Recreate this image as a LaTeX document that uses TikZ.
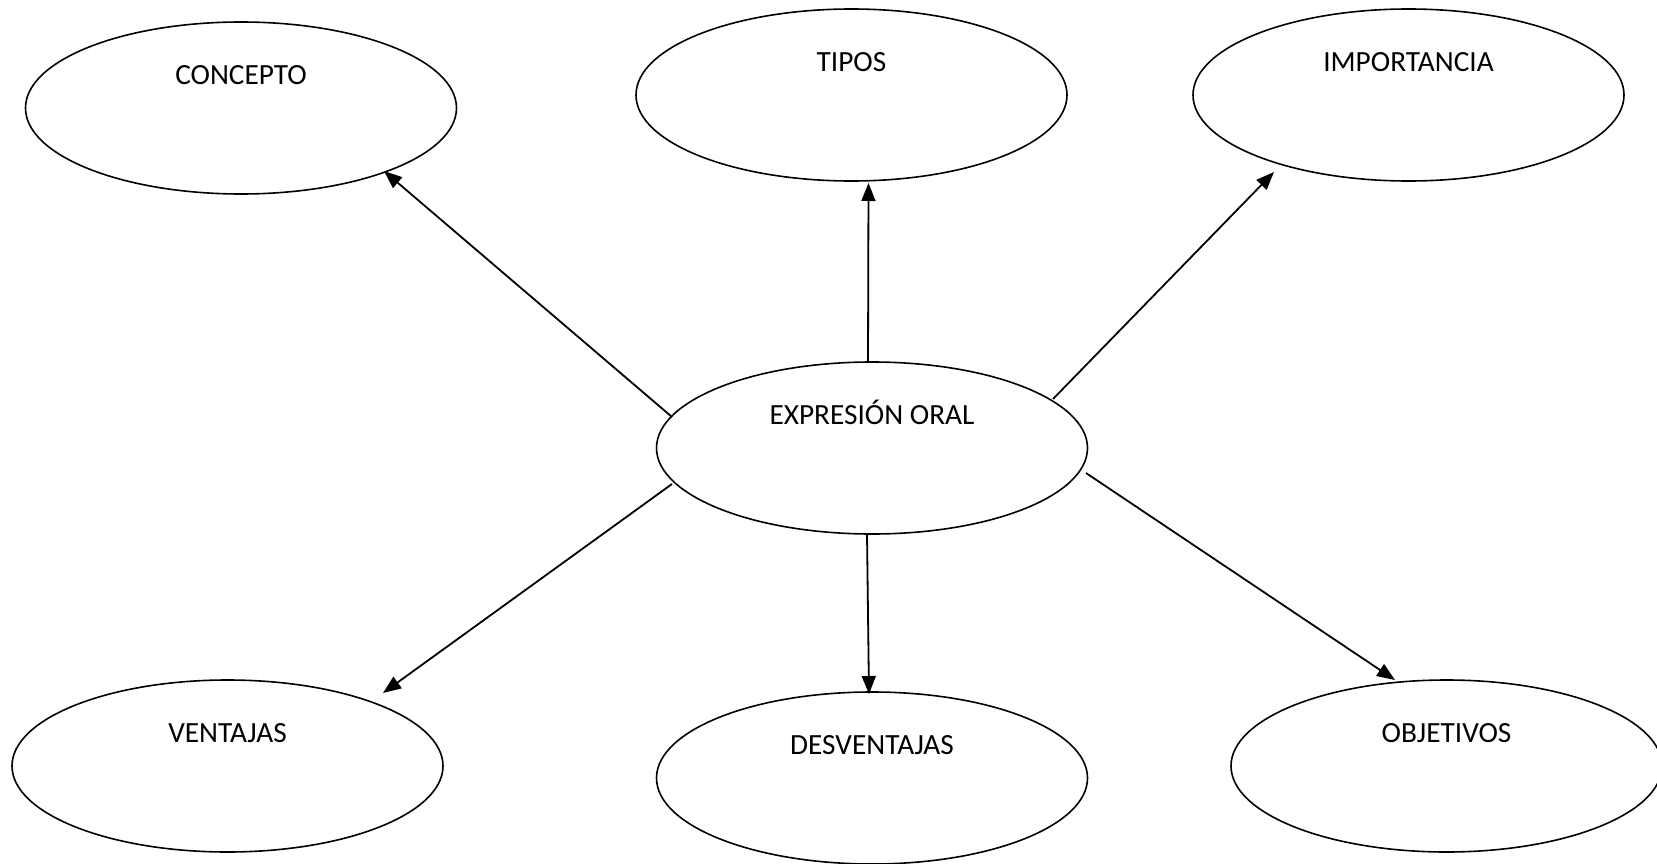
\documentclass[tikz,border=0pt]{standalone}
\usepackage{fontspec}
\setmainfont{Carlito}
\usetikzlibrary{arrows.meta,shapes.geometric}
\begin{document}
\begin{tikzpicture}[x=1pt,y=-1pt,
  bub/.style={draw=black, line width=1.6pt, ellipse, minimum width=431pt, minimum height=172pt, inner sep=0pt},
  lab/.style={font=\fontsize{29.3}{31}\selectfont, text height=18.5pt, text depth=0pt, inner sep=0pt, yshift=33pt},
  arr/.style={line width=1.8pt, -{Triangle[length=18pt,width=14pt]}}]
\useasboundingbox (0,0) rectangle (1657,864);
\node[bub, label={[lab]center:EXPRESIÓN ORAL}] (c) at (872,448) {};
\node[bub, label={[lab]center:CONCEPTO}] (con) at (241,108) {};
\node[bub, label={[lab]center:TIPOS}] (tip) at (851.5,95) {};
\node[bub, label={[lab]center:IMPORTANCIA}] (imp) at (1408.5,95) {};
\node[bub, label={[lab]center:VENTAJAS}] (ven) at (227.5,766) {};
\node[bub, label={[lab]center:DESVENTAJAS}] (des) at (872,778) {};
\node[bub, label={[lab]center:OBJETIVOS}] (obj) at (1446.5,766) {};
\draw[arr] ([shift={(-200,-31)}]c.center) -- ([shift={(143,63)}]con.center);
\draw[arr] ([shift={(-4,-86)}]c.center) -- ([shift={(17,88)}]tip.center);
\draw[arr] ([shift={(181,-49)}]c.center) -- ([shift={(-134.5,77)}]imp.center);
\draw[arr] ([shift={(-200,36)}]c.center) -- ([shift={(155.5,-73)}]ven.center);
\draw[arr] ([shift={(-5,86)}]c.center) -- ([shift={(-3,-84)}]des.center);
\draw[arr] ([shift={(214,25)}]c.center) -- ([shift={(-51.5,-86)}]obj.center);
\end{tikzpicture}
\end{document}
